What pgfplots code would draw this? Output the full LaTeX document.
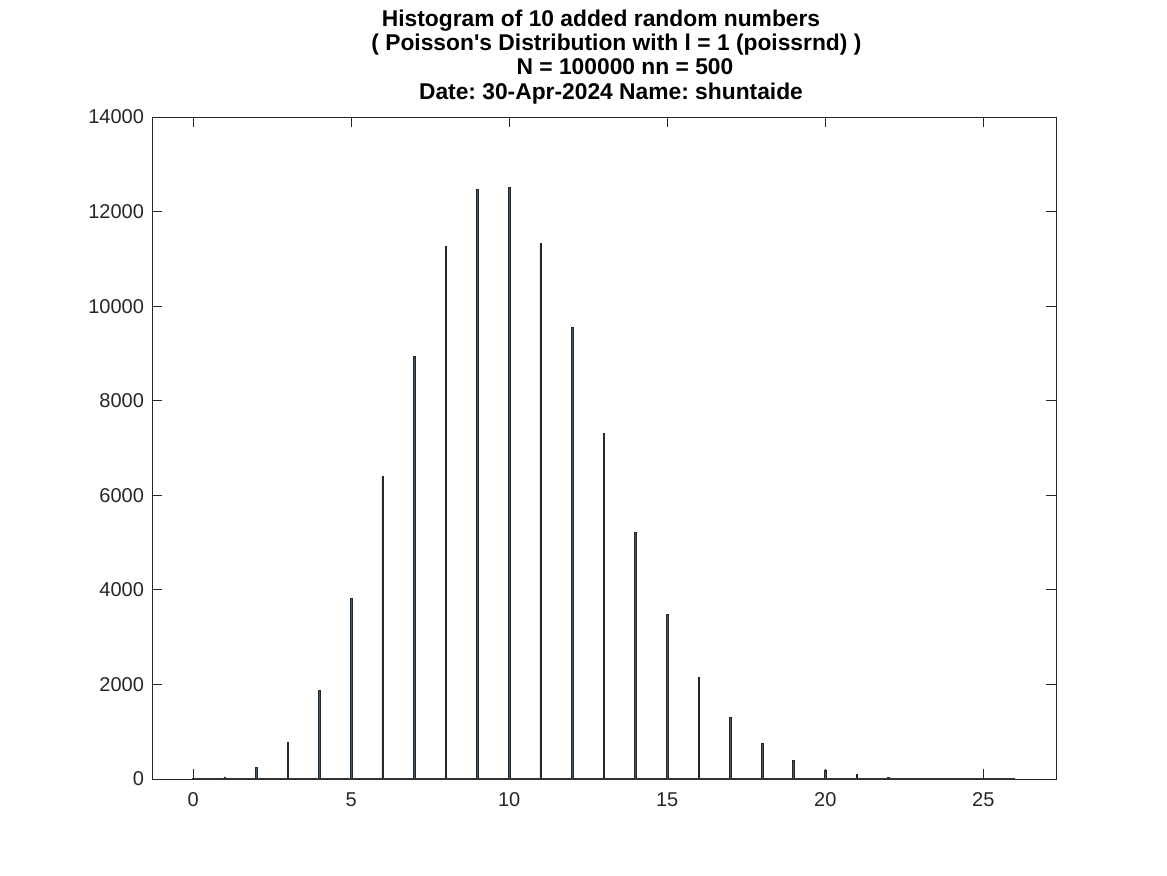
\documentclass[border=0pt]{standalone}
\usepackage{fontspec}
\setmainfont{Liberation Sans}
\usepackage{pgfplots}
\pgfplotsset{compat=1.18}
\definecolor{barfill}{RGB}{60,90,115}
\definecolor{axgray}{RGB}{38,38,38}
\frenchspacing
\begin{document}
\begin{tikzpicture}[x=1pt,y=1pt]
\useasboundingbox (0,0) rectangle (583.5,437.5);
\begin{axis}[at={(76pt,48pt)}, anchor=south west, scale only axis,
  width=452pt, height=331pt,
  xmin=-1.3, xmax=27.3, ymin=0, ymax=14000,
  xtick={0,5,...,25}, ytick={0,2000,...,14000},
  tick align=inside, major tick length=5pt,
  tick style={axgray, line width=0.45pt},
  axis line style={axgray, line width=0.45pt},
  scaled y ticks=false,
  /pgf/number format/assume math mode=true,
  /pgf/number format/1000 sep={},
  ticklabel style={font=\fontsize{10}{12}\selectfont, text=axgray},
  xticklabel style={yshift=-3pt, text height=7.2pt, text depth=0pt},
  yticklabel style={xshift=-0.5pt},
]
\addplot[ybar, bar width=0.052, fill=barfill, draw=black!85, line width=0.35pt] coordinates {
(0,5) (1,45) (2,250) (3,770) (4,1881) (5,3825) (6,6403) (7,8939) (8,11264)
(9,12468) (10,12511) (11,11321) (12,9546) (13,7306) (14,5226) (15,3480)
(16,2149) (17,1310) (18,761) (19,400) (20,190) (21,100) (22,40) (23,18)
(24,7) (25,3) (26,1)
};
\addplot[black!80, line width=0.6pt] coordinates {(0,0) (26,0)};
\end{axis}
\begin{scope}[every node/.style={font=\fontsize{11.4}{13}\selectfont\bfseries, anchor=base, inner sep=0pt}]
\node at (300.5,424) {Histogram of 10 added random numbers};
\node at (308.2,412) {( Poisson\textquotesingle s Distribution with l = 1 (poissrnd) )};
\node at (312.5,400) {N = 100000 nn = 500};
\node at (305.5,387.5) {Date: 30-Apr-2024 Name: shuntaide};
\end{scope}
\end{tikzpicture}
\end{document}
